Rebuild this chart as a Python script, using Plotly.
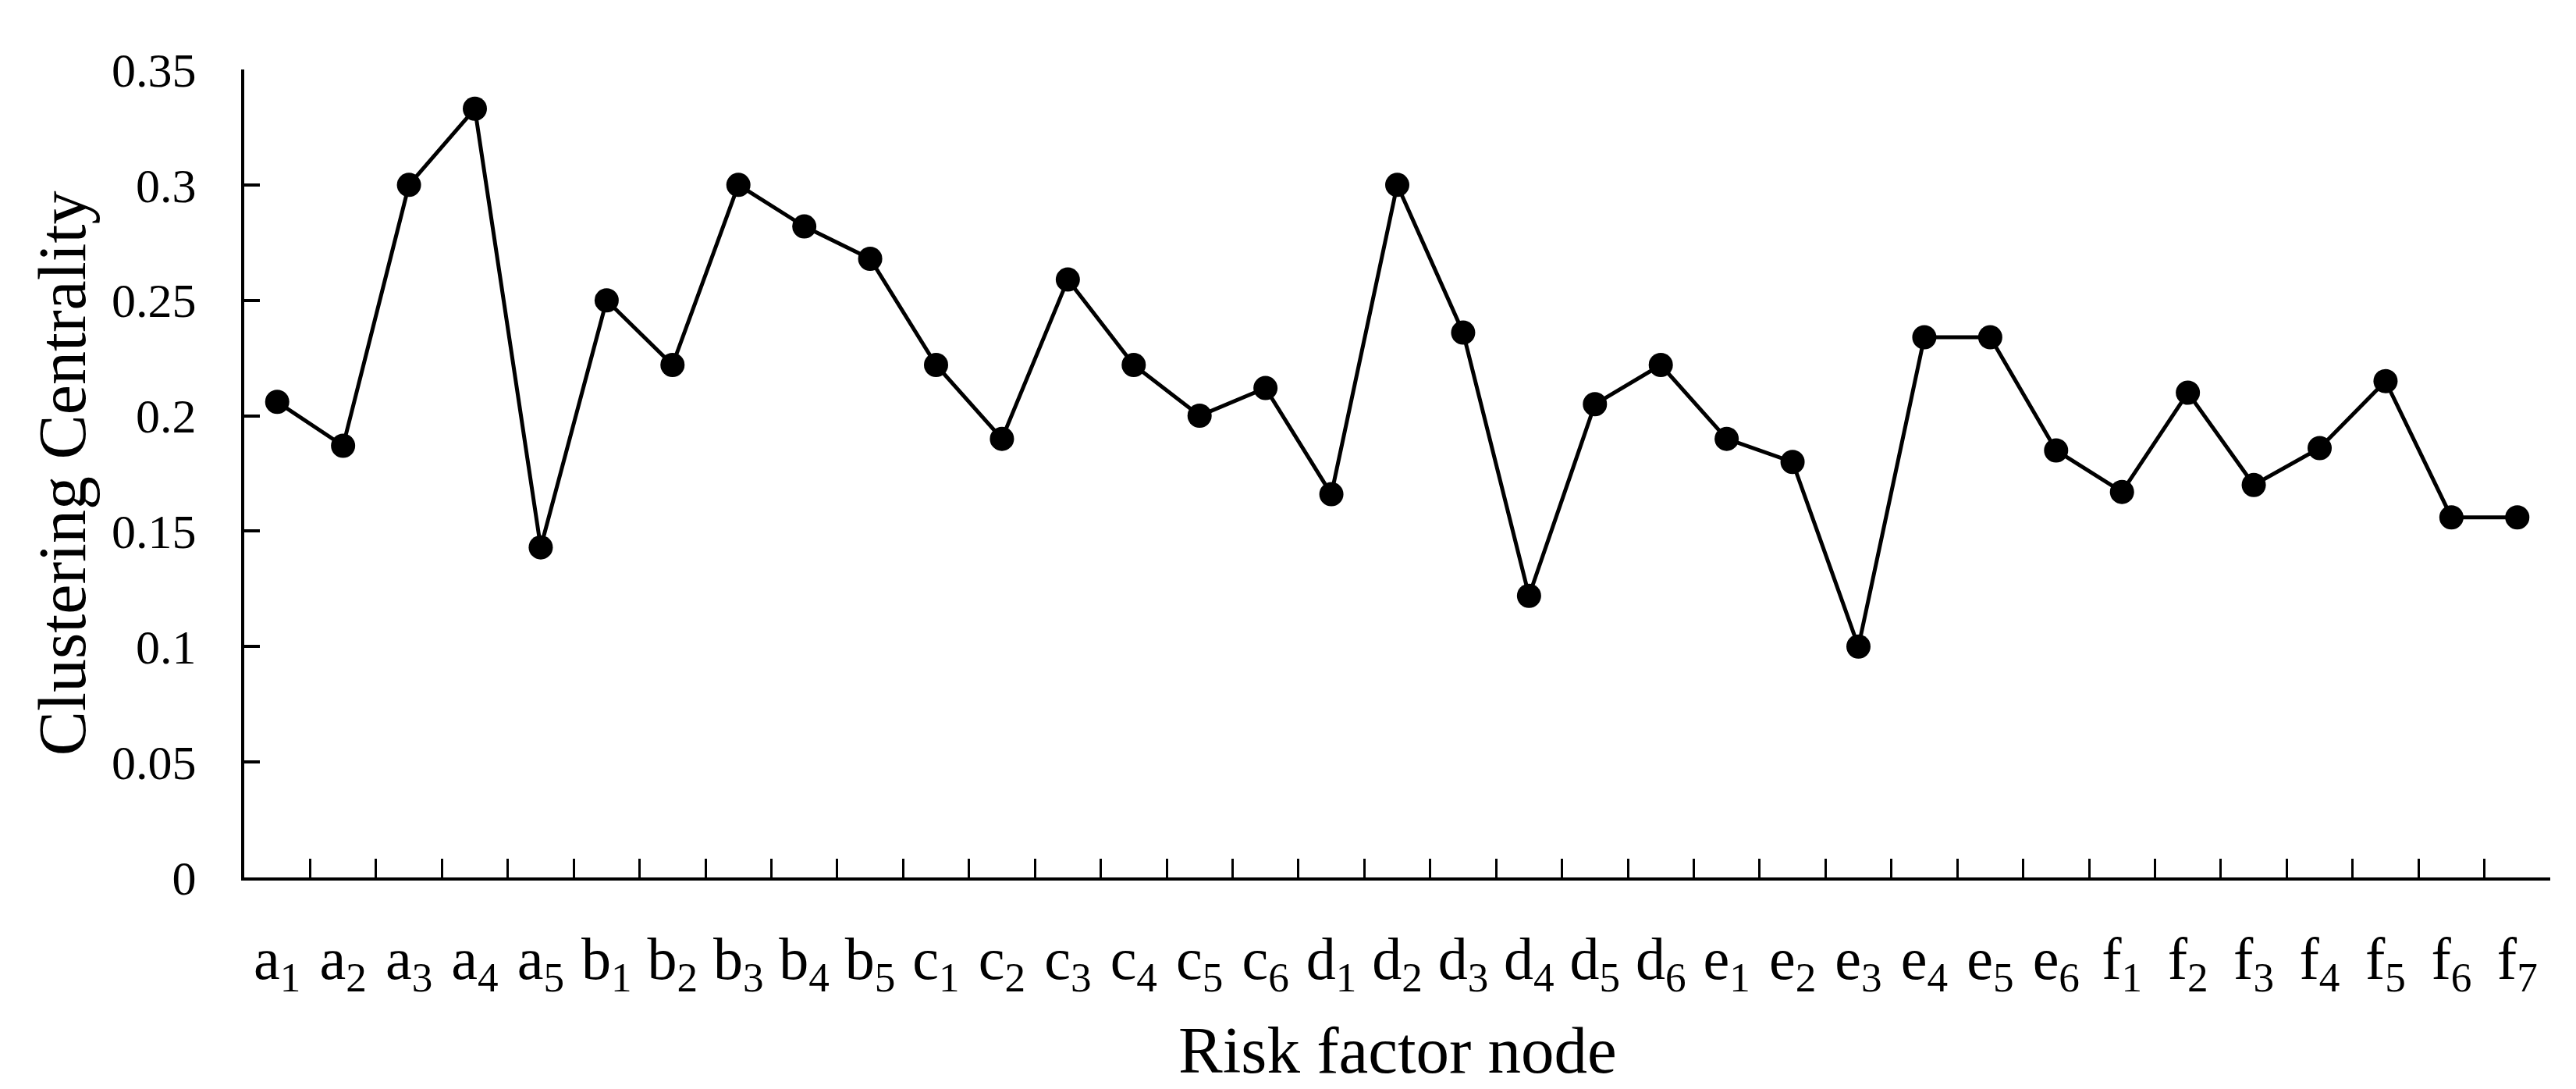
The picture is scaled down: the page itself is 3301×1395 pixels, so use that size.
import plotly.graph_objects as go

nodes = ["a<sub>1</sub>", "a<sub>2</sub>", "a<sub>3</sub>", "a<sub>4</sub>", "a<sub>5</sub>",
         "b<sub>1</sub>", "b<sub>2</sub>", "b<sub>3</sub>", "b<sub>4</sub>", "b<sub>5</sub>",
         "c<sub>1</sub>", "c<sub>2</sub>", "c<sub>3</sub>", "c<sub>4</sub>", "c<sub>5</sub>", "c<sub>6</sub>",
         "d<sub>1</sub>", "d<sub>2</sub>", "d<sub>3</sub>", "d<sub>4</sub>", "d<sub>5</sub>", "d<sub>6</sub>",
         "e<sub>1</sub>", "e<sub>2</sub>", "e<sub>3</sub>", "e<sub>4</sub>", "e<sub>5</sub>", "e<sub>6</sub>",
         "f<sub>1</sub>", "f<sub>2</sub>", "f<sub>3</sub>", "f<sub>4</sub>", "f<sub>5</sub>", "f<sub>6</sub>", "f<sub>7</sub>"]

clustering = [0.206, 0.187, 0.300, 0.333, 0.143,
              0.250, 0.222, 0.300, 0.282, 0.268,
              0.222, 0.190, 0.259, 0.222, 0.200, 0.212,
              0.166, 0.300, 0.236, 0.122, 0.205, 0.222,
              0.190, 0.180, 0.100, 0.234, 0.234, 0.185,
              0.167, 0.210, 0.170, 0.186, 0.215, 0.156, 0.156]

y_ticks = [0, 0.05, 0.1, 0.15, 0.2, 0.25, 0.3, 0.35]
y_tick_text = ["0", "0.05", "0.1", "0.15", "0.2", "0.25", "0.3", "0.35"]

x_title = "Risk factor node"
y_title = "Clustering Centrality"

FONT = "Liberation Serif"

fig = go.Figure()
fig.add_trace(go.Scatter(
    x=nodes, y=clustering, mode="lines+markers",
    line=dict(color="black", width=5),
    marker=dict(color="black", size=31),
    showlegend=False,
))

fig.update_layout(
    width=3301, height=1395,
    margin=dict(l=305, r=41, t=81, b=279),
    paper_bgcolor="white", plot_bgcolor="white",
    font=dict(family=FONT, color="black"),
)

fig.update_xaxes(
    type="category", automargin=False,
    range=[-0.5, len(nodes) - 0.5],
    tickmode="array", tickvals=nodes, ticktext=nodes,
    showline=True, linecolor="black", linewidth=4,
    ticks="inside", tickson="boundaries", ticklen=24, tickwidth=3, tickcolor="black",
    tickfont=dict(family=FONT, size=76, color="black"),
    ticklabelstandoff=35,
    showgrid=False, zeroline=False,
)

fig.update_yaxes(
    range=[0, 0.35], automargin=False,
    tickmode="array", tickvals=y_ticks, ticktext=y_tick_text,
    showline=True, linecolor="black", linewidth=4,
    ticks="inside", ticklen=20, tickwidth=4, tickcolor="black",
    tickfont=dict(family=FONT, size=62, color="black"),
    ticklabelstandoff=45,
    showgrid=False, zeroline=False,
)

fig.add_annotation(
    text=x_title, xref="paper", yref="paper", x=0.5, y=-0.2135,
    xanchor="center", yanchor="middle", showarrow=False,
    font=dict(family=FONT, size=85, color="black"),
)
fig.add_annotation(
    text=y_title, xref="paper", yref="paper", x=-0.0789, y=0.5,
    xanchor="center", yanchor="middle", showarrow=False, textangle=-90,
    font=dict(family=FONT, size=86, color="black"),
)

fig.write_html("out.html")
